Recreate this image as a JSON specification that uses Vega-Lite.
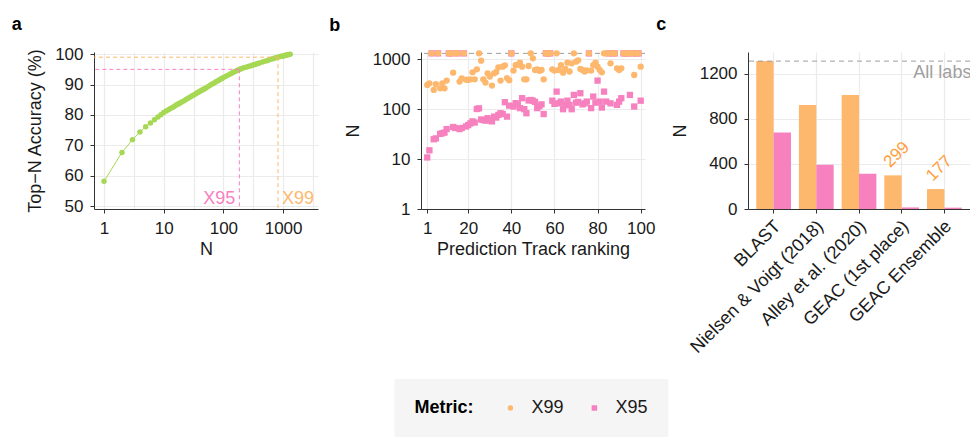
{
  "$schema": "https://vega.github.io/schema/vega-lite/v6.json",
  "background": "white",
  "padding": {"left": 11, "top": 15, "right": 0, "bottom": 0},
  "bounds": "flush",
  "spacing": 103,
  "config": {
    "font": "Liberation Sans",
    "view": {"stroke": null},
    "axis": {"labelFontSize": 17, "labelColor": "#1a1a1a", "titleFontSize": 18, "titleFontWeight": "normal", "titleColor": "#1a1a1a", "domainColor": "#333333", "tickColor": "#333333", "tickSize": 4, "labelPadding": 7, "gridColor": "#EBEBEB", "gridWidth": 1.2, "labelFlush": false, "labelOverlap": false, "labelSeparation": -20},
    "axisX": {"titlePadding": 4},
    "axisY": {"titlePadding": 10},
    "title": {"fontSize": 18, "fontWeight": "bold", "anchor": "start", "frame": "bounds", "dx": -15, "offset": 14, "color": "black"},
    "legend": {"labelFont": "Liberation Sans", "titleFont": "Liberation Sans"}
  },
  "datasets": {
    "acc": [
      {"n": 1, "acc": 58.2}, {"n": 2, "acc": 67.7}, {"n": 3, "acc": 71.9}, {"n": 4, "acc": 74.4}, {"n": 5, "acc": 76.1},
      {"n": 6, "acc": 77.4}, {"n": 7, "acc": 78.4}, {"n": 8, "acc": 79.3}, {"n": 9, "acc": 80.1}, {"n": 10, "acc": 80.8},
      {"n": 11, "acc": 81.3}, {"n": 12, "acc": 81.7}, {"n": 13, "acc": 82.1}, {"n": 14, "acc": 82.5}, {"n": 15, "acc": 82.8},
      {"n": 16, "acc": 83.2}, {"n": 17, "acc": 83.5}, {"n": 18, "acc": 83.7}, {"n": 19, "acc": 84.0}, {"n": 20, "acc": 84.3},
      {"n": 22, "acc": 84.7}, {"n": 24, "acc": 85.2}, {"n": 26, "acc": 85.6}, {"n": 28, "acc": 85.9}, {"n": 30, "acc": 86.3},
      {"n": 32, "acc": 86.6}, {"n": 34, "acc": 86.9}, {"n": 36, "acc": 87.2}, {"n": 38, "acc": 87.5}, {"n": 40, "acc": 87.7},
      {"n": 42, "acc": 88.0}, {"n": 44, "acc": 88.2}, {"n": 46, "acc": 88.4}, {"n": 48, "acc": 88.6}, {"n": 50, "acc": 88.8},
      {"n": 55, "acc": 89.3}, {"n": 60, "acc": 89.8}, {"n": 65, "acc": 90.2}, {"n": 70, "acc": 90.5}, {"n": 75, "acc": 90.9},
      {"n": 80, "acc": 91.2}, {"n": 85, "acc": 91.5}, {"n": 90, "acc": 91.8}, {"n": 95, "acc": 92.0}, {"n": 100, "acc": 92.3},
      {"n": 110, "acc": 92.7}, {"n": 120, "acc": 93.1}, {"n": 130, "acc": 93.5}, {"n": 140, "acc": 93.8}, {"n": 150, "acc": 94.1},
      {"n": 160, "acc": 94.4}, {"n": 170, "acc": 94.6}, {"n": 180, "acc": 94.9}, {"n": 190, "acc": 95.1}, {"n": 200, "acc": 95.2},
      {"n": 220, "acc": 95.5}, {"n": 240, "acc": 95.7}, {"n": 260, "acc": 95.9}, {"n": 280, "acc": 96.1}, {"n": 300, "acc": 96.3},
      {"n": 320, "acc": 96.5}, {"n": 340, "acc": 96.6}, {"n": 360, "acc": 96.8}, {"n": 380, "acc": 96.9}, {"n": 400, "acc": 97.1},
      {"n": 450, "acc": 97.4}, {"n": 500, "acc": 97.7}, {"n": 550, "acc": 97.9}, {"n": 600, "acc": 98.2}, {"n": 650, "acc": 98.4},
      {"n": 700, "acc": 98.6}, {"n": 750, "acc": 98.8}, {"n": 800, "acc": 98.9}, {"n": 850, "acc": 99.1}, {"n": 900, "acc": 99.2},
      {"n": 950, "acc": 99.3}, {"n": 1000, "acc": 99.4}, {"n": 1050, "acc": 99.5}, {"n": 1100, "acc": 99.6}, {"n": 1150, "acc": 99.7},
      {"n": 1200, "acc": 99.8}, {"n": 1250, "acc": 99.9}, {"n": 1314, "acc": 100.0}
    ],
    "cut": [
      {"metric": "X95", "n": 185, "acc": 95},
      {"metric": "X99", "n": 822, "acc": 99}
    ],
    "all": [{"total": 1314, "label": "All labs"}],
    "ranks": [
      {"rank": 1, "metric": "X95", "n": 10.8}, {"rank": 2, "metric": "X95", "n": 15}, {"rank": 3, "metric": "X95", "n": 1314}, {"rank": 4, "metric": "X95", "n": 25}, {"rank": 5, "metric": "X95", "n": 26},
      {"rank": 6, "metric": "X95", "n": 1314}, {"rank": 7, "metric": "X95", "n": 32}, {"rank": 8, "metric": "X95", "n": 33}, {"rank": 9, "metric": "X95", "n": 34}, {"rank": 10, "metric": "X95", "n": 40},
      {"rank": 11, "metric": "X95", "n": 1314}, {"rank": 12, "metric": "X95", "n": 1314}, {"rank": 13, "metric": "X95", "n": 44}, {"rank": 14, "metric": "X95", "n": 42}, {"rank": 15, "metric": "X95", "n": 1314},
      {"rank": 16, "metric": "X95", "n": 40}, {"rank": 17, "metric": "X95", "n": 42}, {"rank": 18, "metric": "X95", "n": 1314}, {"rank": 19, "metric": "X95", "n": 45}, {"rank": 20, "metric": "X95", "n": 48},
      {"rank": 21, "metric": "X95", "n": 52}, {"rank": 22, "metric": "X95", "n": 57}, {"rank": 23, "metric": "X95", "n": 54}, {"rank": 24, "metric": "X95", "n": 101}, {"rank": 25, "metric": "X95", "n": 104},
      {"rank": 26, "metric": "X95", "n": 62}, {"rank": 27, "metric": "X95", "n": 61}, {"rank": 28, "metric": "X95", "n": 59}, {"rank": 29, "metric": "X95", "n": 66}, {"rank": 30, "metric": "X95", "n": 60},
      {"rank": 31, "metric": "X95", "n": 57}, {"rank": 32, "metric": "X95", "n": 71}, {"rank": 33, "metric": "X95", "n": 68}, {"rank": 34, "metric": "X95", "n": 77}, {"rank": 35, "metric": "X95", "n": 83},
      {"rank": 36, "metric": "X95", "n": 80}, {"rank": 37, "metric": "X95", "n": 138}, {"rank": 38, "metric": "X95", "n": 71}, {"rank": 39, "metric": "X95", "n": 118}, {"rank": 40, "metric": "X95", "n": 1314},
      {"rank": 41, "metric": "X95", "n": 113}, {"rank": 42, "metric": "X95", "n": 132}, {"rank": 43, "metric": "X95", "n": 125}, {"rank": 44, "metric": "X95", "n": 105}, {"rank": 45, "metric": "X95", "n": 166},
      {"rank": 46, "metric": "X95", "n": 100}, {"rank": 47, "metric": "X95", "n": 83}, {"rank": 48, "metric": "X95", "n": 150}, {"rank": 49, "metric": "X95", "n": 153}, {"rank": 50, "metric": "X95", "n": 148},
      {"rank": 51, "metric": "X95", "n": 140}, {"rank": 52, "metric": "X95", "n": 105}, {"rank": 53, "metric": "X95", "n": 115}, {"rank": 54, "metric": "X95", "n": 125}, {"rank": 55, "metric": "X95", "n": 80},
      {"rank": 56, "metric": "X95", "n": 1314}, {"rank": 57, "metric": "X95", "n": 1314}, {"rank": 58, "metric": "X95", "n": 1314}, {"rank": 59, "metric": "X95", "n": 148}, {"rank": 60, "metric": "X95", "n": 128},
      {"rank": 61, "metric": "X95", "n": 225}, {"rank": 62, "metric": "X95", "n": 131}, {"rank": 63, "metric": "X95", "n": 142}, {"rank": 64, "metric": "X95", "n": 100}, {"rank": 65, "metric": "X95", "n": 120},
      {"rank": 66, "metric": "X95", "n": 148}, {"rank": 67, "metric": "X95", "n": 122}, {"rank": 68, "metric": "X95", "n": 100}, {"rank": 69, "metric": "X95", "n": 193}, {"rank": 70, "metric": "X95", "n": 135},
      {"rank": 71, "metric": "X95", "n": 140}, {"rank": 72, "metric": "X95", "n": 209}, {"rank": 73, "metric": "X95", "n": 125}, {"rank": 74, "metric": "X95", "n": 131}, {"rank": 75, "metric": "X95", "n": 142},
      {"rank": 76, "metric": "X95", "n": 1314}, {"rank": 77, "metric": "X95", "n": 105}, {"rank": 78, "metric": "X95", "n": 179}, {"rank": 79, "metric": "X95", "n": 135}, {"rank": 80, "metric": "X95", "n": 374},
      {"rank": 81, "metric": "X95", "n": 142}, {"rank": 82, "metric": "X95", "n": 108}, {"rank": 83, "metric": "X95", "n": 225}, {"rank": 84, "metric": "X95", "n": 142}, {"rank": 85, "metric": "X95", "n": 1314},
      {"rank": 86, "metric": "X95", "n": 131}, {"rank": 87, "metric": "X95", "n": 1314}, {"rank": 88, "metric": "X95", "n": 1314}, {"rank": 89, "metric": "X95", "n": 122}, {"rank": 90, "metric": "X95", "n": 142},
      {"rank": 91, "metric": "X95", "n": 166}, {"rank": 92, "metric": "X95", "n": 1314}, {"rank": 93, "metric": "X95", "n": 1314}, {"rank": 94, "metric": "X95", "n": 1314}, {"rank": 95, "metric": "X95", "n": 193},
      {"rank": 96, "metric": "X95", "n": 1314}, {"rank": 97, "metric": "X95", "n": 113}, {"rank": 98, "metric": "X95", "n": 1314}, {"rank": 99, "metric": "X95", "n": 1314}, {"rank": 100, "metric": "X95", "n": 148},
      {"rank": 1, "metric": "X99", "n": 306}, {"rank": 2, "metric": "X99", "n": 330}, {"rank": 3, "metric": "X99", "n": 1314}, {"rank": 4, "metric": "X99", "n": 243}, {"rank": 5, "metric": "X99", "n": 316},
      {"rank": 6, "metric": "X99", "n": 1314}, {"rank": 7, "metric": "X99", "n": 262}, {"rank": 8, "metric": "X99", "n": 330}, {"rank": 9, "metric": "X99", "n": 262}, {"rank": 10, "metric": "X99", "n": 374},
      {"rank": 11, "metric": "X99", "n": 1314}, {"rank": 12, "metric": "X99", "n": 1314}, {"rank": 13, "metric": "X99", "n": 540}, {"rank": 14, "metric": "X99", "n": 1314}, {"rank": 15, "metric": "X99", "n": 1314},
      {"rank": 16, "metric": "X99", "n": 357}, {"rank": 17, "metric": "X99", "n": 416}, {"rank": 18, "metric": "X99", "n": 1314}, {"rank": 19, "metric": "X99", "n": 390}, {"rank": 20, "metric": "X99", "n": 386},
      {"rank": 21, "metric": "X99", "n": 396}, {"rank": 22, "metric": "X99", "n": 549}, {"rank": 23, "metric": "X99", "n": 396}, {"rank": 24, "metric": "X99", "n": 630}, {"rank": 25, "metric": "X99", "n": 1314},
      {"rank": 26, "metric": "X99", "n": 940}, {"rank": 27, "metric": "X99", "n": 396}, {"rank": 28, "metric": "X99", "n": 341}, {"rank": 29, "metric": "X99", "n": 524}, {"rank": 30, "metric": "X99", "n": 450},
      {"rank": 31, "metric": "X99", "n": 297}, {"rank": 32, "metric": "X99", "n": 524}, {"rank": 33, "metric": "X99", "n": 557}, {"rank": 34, "metric": "X99", "n": 691}, {"rank": 35, "metric": "X99", "n": 374},
      {"rank": 36, "metric": "X99", "n": 712}, {"rank": 37, "metric": "X99", "n": 757}, {"rank": 38, "metric": "X99", "n": 420}, {"rank": 39, "metric": "X99", "n": 380}, {"rank": 40, "metric": "X99", "n": 1314},
      {"rank": 41, "metric": "X99", "n": 593}, {"rank": 42, "metric": "X99", "n": 767}, {"rank": 43, "metric": "X99", "n": 780}, {"rank": 44, "metric": "X99", "n": 857}, {"rank": 45, "metric": "X99", "n": 712},
      {"rank": 46, "metric": "X99", "n": 396}, {"rank": 47, "metric": "X99", "n": 396}, {"rank": 48, "metric": "X99", "n": 735}, {"rank": 49, "metric": "X99", "n": 1314}, {"rank": 50, "metric": "X99", "n": 1046},
      {"rank": 51, "metric": "X99", "n": 611}, {"rank": 52, "metric": "X99", "n": 630}, {"rank": 53, "metric": "X99", "n": 590}, {"rank": 54, "metric": "X99", "n": 611}, {"rank": 55, "metric": "X99", "n": 396},
      {"rank": 56, "metric": "X99", "n": 1314}, {"rank": 57, "metric": "X99", "n": 1314}, {"rank": 58, "metric": "X99", "n": 1314}, {"rank": 59, "metric": "X99", "n": 630}, {"rank": 60, "metric": "X99", "n": 593},
      {"rank": 61, "metric": "X99", "n": 1314}, {"rank": 62, "metric": "X99", "n": 611}, {"rank": 63, "metric": "X99", "n": 767}, {"rank": 64, "metric": "X99", "n": 540}, {"rank": 65, "metric": "X99", "n": 640},
      {"rank": 66, "metric": "X99", "n": 857}, {"rank": 67, "metric": "X99", "n": 570}, {"rank": 68, "metric": "X99", "n": 831}, {"rank": 69, "metric": "X99", "n": 1314}, {"rank": 70, "metric": "X99", "n": 897},
      {"rank": 71, "metric": "X99", "n": 955}, {"rank": 72, "metric": "X99", "n": 640}, {"rank": 73, "metric": "X99", "n": 611}, {"rank": 74, "metric": "X99", "n": 570}, {"rank": 75, "metric": "X99", "n": 600},
      {"rank": 76, "metric": "X99", "n": 1314}, {"rank": 77, "metric": "X99", "n": 593}, {"rank": 78, "metric": "X99", "n": 767}, {"rank": 79, "metric": "X99", "n": 857}, {"rank": 80, "metric": "X99", "n": 712},
      {"rank": 81, "metric": "X99", "n": 611}, {"rank": 82, "metric": "X99", "n": 549}, {"rank": 83, "metric": "X99", "n": 1314}, {"rank": 84, "metric": "X99", "n": 1314}, {"rank": 85, "metric": "X99", "n": 1314},
      {"rank": 86, "metric": "X99", "n": 831}, {"rank": 87, "metric": "X99", "n": 1314}, {"rank": 88, "metric": "X99", "n": 1314}, {"rank": 89, "metric": "X99", "n": 660}, {"rank": 90, "metric": "X99", "n": 611},
      {"rank": 91, "metric": "X99", "n": 660}, {"rank": 92, "metric": "X99", "n": 1314}, {"rank": 93, "metric": "X99", "n": 1314}, {"rank": 94, "metric": "X99", "n": 1314}, {"rank": 95, "metric": "X99", "n": 1314},
      {"rank": 96, "metric": "X99", "n": 1314}, {"rank": 97, "metric": "X99", "n": 485}, {"rank": 98, "metric": "X99", "n": 1314}, {"rank": 99, "metric": "X99", "n": 1314}, {"rank": 100, "metric": "X99", "n": 712}
    ],
    "methods": [
      {"method": "BLAST", "metric": "X99", "n": 1314},
      {"method": "BLAST", "metric": "X95", "n": 679},
      {"method": "Nielsen & Voigt (2018)", "metric": "X99", "n": 925},
      {"method": "Nielsen & Voigt (2018)", "metric": "X95", "n": 393},
      {"method": "Alley et al. (2020)", "metric": "X99", "n": 1014},
      {"method": "Alley et al. (2020)", "metric": "X95", "n": 313},
      {"method": "GEAC (1st place)", "metric": "X99", "n": 299},
      {"method": "GEAC (1st place)", "metric": "X95", "n": 14},
      {"method": "GEAC Ensemble", "metric": "X99", "n": 177},
      {"method": "GEAC Ensemble", "metric": "X95", "n": 12}
    ]
  },
  "hconcat": [
    {
      "title": {"text": "a", "offset": 11.5},
      "width": 224,
      "height": 157,
      "encoding": {
        "x": {"field": "n", "type": "quantitative", "scale": {"type": "log", "domain": [0.68, 3845], "nice": false},
          "axis": {"title": "N", "values": [1, 3.1623, 10, 31.623, 100, 316.23, 1000, 3162.3], "format": "d", "grid": true, "labelOverlap": false,
            "labelExpr": "(datum.value == 1 || datum.value == 10 || datum.value == 100 || datum.value == 1000) ? datum.label : ''",
            "tickOpacity": {"condition": {"test": "datum.value == 1 || datum.value == 10 || datum.value == 100 || datum.value == 1000", "value": 1}, "value": 0}}},
        "y": {"field": "acc", "type": "quantitative", "scale": {"domain": [49.1, 100.7], "nice": false, "zero": false},
          "axis": {"title": "Top−N Accuracy (%)", "values": [50, 60, 70, 80, 90, 100], "grid": true, "labelOverlap": false, "labelSeparation": -20, "labelBound": false}}
      },
      "layer": [
        {
          "data": {"name": "acc"},
          "mark": {"type": "line", "color": "#A6D854", "strokeWidth": 1}
        },
        {
          "data": {"name": "acc"},
          "mark": {"type": "point", "filled": true, "color": "#A6D854", "opacity": 1, "size": 30}
        },
        {
          "data": {"name": "cut"},
          "mark": {"type": "rule", "strokeDash": [4, 3], "strokeWidth": 1},
          "encoding": {
            "x2": {"datum": 0.68},
            "color": {"field": "metric", "type": "nominal", "scale": {"domain": ["X99", "X95"], "range": ["#FDB86E", "#F781BF"]}, "legend": null}
          }
        },
        {
          "data": {"name": "cut"},
          "mark": {"type": "rule", "strokeDash": [4, 3], "strokeWidth": 1},
          "encoding": {
            "y2": {"datum": 49.1},
            "color": {"field": "metric", "type": "nominal", "scale": {"domain": ["X99", "X95"], "range": ["#FDB86E", "#F781BF"]}, "legend": null}
          }
        },
        {
          "data": {"name": "cut"},
          "transform": [{"filter": "datum.metric == 'X95'"}],
          "mark": {"type": "text", "align": "right", "baseline": "alphabetic", "dx": -4, "fontSize": 18},
          "encoding": {
            "y": {"datum": 50.9, "type": "quantitative"},
            "text": {"field": "metric"},
            "color": {"field": "metric", "type": "nominal", "scale": {"domain": ["X99", "X95"], "range": ["#FDB86E", "#F781BF"]}, "legend": null}
          }
        },
        {
          "data": {"name": "cut"},
          "transform": [{"filter": "datum.metric == 'X99'"}],
          "mark": {"type": "text", "align": "left", "baseline": "alphabetic", "dx": 4, "fontSize": 18},
          "encoding": {
            "y": {"datum": 50.9, "type": "quantitative"},
            "text": {"field": "metric"},
            "color": {"field": "metric", "type": "nominal", "scale": {"domain": ["X99", "X95"], "range": ["#FDB86E", "#F781BF"]}, "legend": null}
          }
        }
      ]
    },
    {
      "title": {"text": "b", "offset": 15.5},
      "width": 224,
      "height": 157,
      "layer": [
        {
          "data": {"name": "all"},
          "mark": {"type": "rule", "color": "#9E9E9E", "strokeDash": [5, 4], "strokeWidth": 1},
          "encoding": {
            "y": {"field": "total", "type": "quantitative"}
          }
        },
        {
          "data": {"name": "ranks"},
          "mark": {"type": "point", "filled": true, "opacity": 1, "size": 40},
          "encoding": {
            "x": {"field": "rank", "type": "quantitative", "scale": {"domain": [-1.9, 102], "nice": false},
              "axis": {"title": "Prediction Track ranking", "values": [1, 20, 40, 60, 80, 100], "grid": true, "labelOverlap": false}},
            "y": {"field": "n", "type": "quantitative", "scale": {"type": "log", "domain": [1, 1400], "nice": false},
              "axis": {"title": "N", "values": [1, 10, 100, 1000], "format": "d", "grid": true, "labelOverlap": false}},
            "color": {"field": "metric", "type": "nominal", "scale": {"domain": ["X99", "X95"], "range": ["#FDB86E", "#F781BF"]},
              "legend": {"title": "Metric:", "orient": "none", "legendX": -26.6, "legendY": 327, "direction": "horizontal", "titleOrient": "left", "titleAnchor": "middle", "titleBaseline": "middle", "titleFontSize": 18, "titleFontWeight": "bold", "titleColor": "black", "titlePadding": 27, "labelFontSize": 18, "labelColor": "#1a1a1a", "symbolSize": 30, "labelOffset": 12, "columnPadding": 21, "padding": 20, "fillColor": "#F5F5F5", "symbolStrokeWidth": 0, "symbolOpacity": 1}},
            "shape": {"field": "metric", "type": "nominal", "scale": {"domain": ["X99", "X95"], "range": ["circle", "square"]},
              "legend": {"title": "Metric:", "orient": "none", "legendX": -26.6, "legendY": 327, "direction": "horizontal", "titleOrient": "left", "titleAnchor": "middle", "titleBaseline": "middle", "titleFontSize": 18, "titleFontWeight": "bold", "titleColor": "black", "titlePadding": 27, "labelFontSize": 18, "labelColor": "#1a1a1a", "symbolSize": 30, "labelOffset": 12, "columnPadding": 21, "padding": 20, "fillColor": "#F5F5F5", "symbolStrokeWidth": 0, "symbolOpacity": 1}},
            "order": {"field": "metric", "sort": "ascending"}
          }
        }
      ]
    },
    {
      "title": {"text": "c", "offset": 18.5},
      "width": 222,
      "height": 157,
      "layer": [
        {
          "data": {"name": "methods"},
          "mark": {"type": "bar"},
          "encoding": {
            "x": {"field": "method", "type": "nominal", "sort": null, "scale": {"paddingInner": 0.186, "paddingOuter": 0.193},
              "axis": {"title": null, "labelAngle": -45, "labelAlign": "right", "labelBaseline": "top", "grid": true, "bandPosition": 0.5, "labelPadding": 4, "labelOffset": -2, "labelFontSize": 18, "labelOverlap": false}},
            "xOffset": {"field": "metric", "type": "nominal", "scale": {"domain": ["X99", "X95"], "paddingInner": 0}},
            "y": {"field": "n", "type": "quantitative", "scale": {"domain": [0, 1395], "nice": false},
              "axis": {"title": "N", "values": [0, 400, 800, 1200], "format": "d", "grid": true, "labelOverlap": false}},
            "color": {"field": "metric", "type": "nominal", "scale": {"domain": ["X99", "X95"], "range": ["#FDB86E", "#F781BF"]}, "legend": null}
          }
        },
        {
          "data": {"name": "all"},
          "mark": {"type": "rule", "color": "#9E9E9E", "strokeDash": [5, 4], "strokeWidth": 1},
          "encoding": {
            "y": {"field": "total", "type": "quantitative"}
          }
        },
        {
          "data": {"name": "all"},
          "mark": {"type": "text", "color": "#A0A0A0", "fontSize": 18, "align": "center", "baseline": "middle", "dy": 12, "dx": -2},
          "encoding": {
            "x": {"datum": "GEAC Ensemble", "type": "nominal"},
            "y": {"field": "total", "type": "quantitative"},
            "text": {"field": "label"}
          }
        },
        {
          "data": {"name": "methods"},
          "transform": [{"filter": "datum.metric == 'X99' && datum.n < 400"}],
          "mark": {"type": "text", "align": "left", "baseline": "middle", "angle": 315, "dx": 3, "dy": -12, "fontSize": 17, "color": "#FF9E3D"},
          "encoding": {
            "x": {"field": "method", "type": "nominal", "sort": null},
            "xOffset": {"field": "metric", "type": "nominal"},
            "y": {"field": "n", "type": "quantitative"},
            "text": {"field": "n", "type": "quantitative"}
          }
        }
      ]
    }
  ],
  "resolve": {"scale": {"color": "independent", "shape": "independent"}, "legend": {"color": "independent", "shape": "independent"}}
}
